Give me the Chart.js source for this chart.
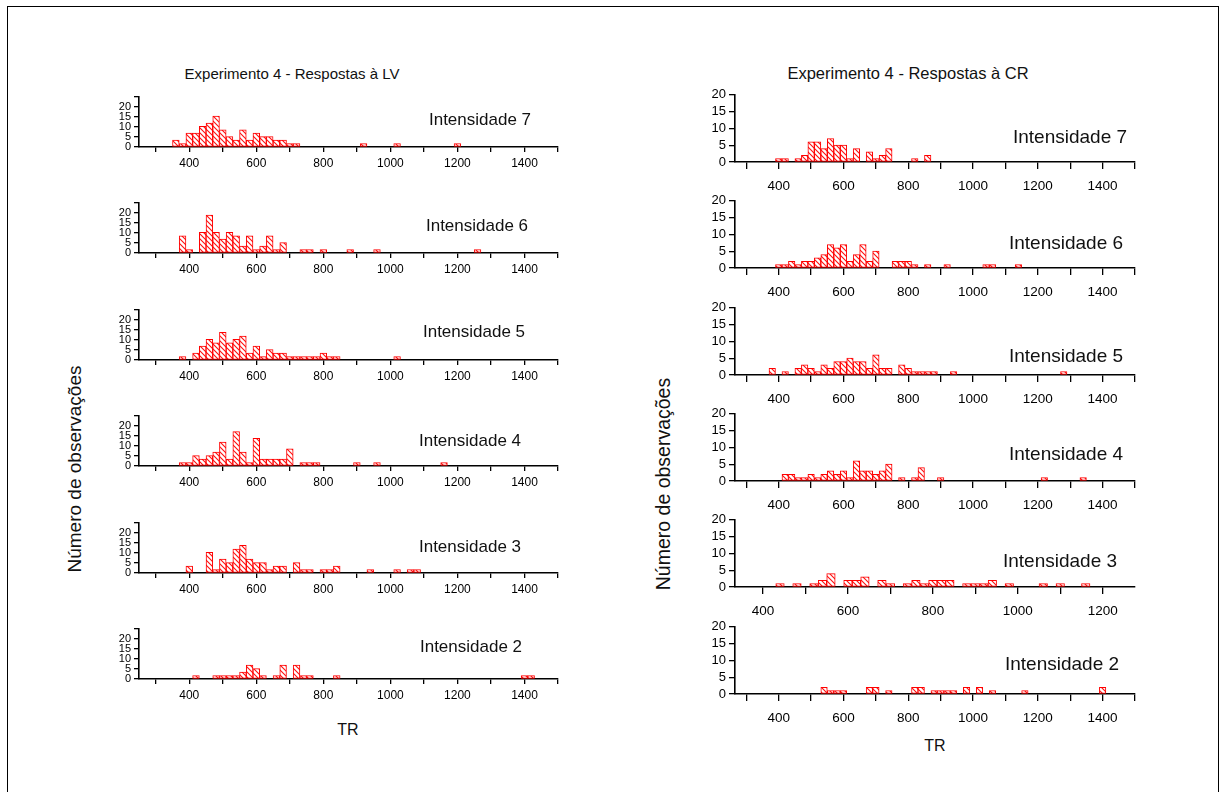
<!DOCTYPE html>
<html>
<head>
<meta charset="utf-8">
<script src="https://cdn.jsdelivr.net/npm/chart.js@4.4.1/dist/chart.umd.min.js"></script>
<style>
  body{margin:0;background:#fff;font-family:"Liberation Sans",Arial,sans-serif;}
  #page{position:relative;width:1225px;height:792px;overflow:hidden;background:#fff;}
  #frame{position:absolute;left:7px;top:6px;width:1210px;height:800px;border:1px solid #000;}
  .lbl{position:absolute;transform:translate(-50%,-50%);white-space:nowrap;color:#111;}
  .rot{transform:translate(-50%,-50%) rotate(-90deg);}
  canvas{position:absolute;}
</style>
</head>
<body>
<div id="page"><div id="frame"></div></div>
<script>
/* ============ DATA : bin centre (TR, ms) and bar height ============ */
// Respostas à LV (heights)
const lv7_tr = [360,380,400,420,440,460,480,500,520,540,560,580,600,620,640,660,680,700,720,920,1020,1200];
const lv7_n  = [3.4,1.7,6.9,6.9,10.3,12,15.5,8.6,5.2,3.4,8.6,3.4,6.9,5.2,5.2,3.4,3.4,1.7,1.7,1.7,1.7,1.7];
const lv6_tr = [380,400,440,460,480,500,520,540,560,580,600,620,640,660,680,740,760,800,880,960,1260];
const lv6_n  = [8.6,1.7,10.3,18.9,10.3,6.9,10.3,8.6,3.4,8.6,1.7,3.4,8.6,1.7,5.2,1.7,1.7,1.7,1.7,1.7,1.7];
const lv5_tr = [380,420,440,460,480,500,520,540,560,580,600,620,640,660,680,700,720,740,760,780,800,820,840,1020];
const lv5_n  = [1.7,3.4,6.9,10.3,8.6,13.8,8.6,10.3,12,3.4,6.9,1.7,5.2,3.4,3.4,1.7,1.7,1.7,1.7,1.7,3.4,1.7,1.7,1.7];
const lv4_tr = [380,400,420,440,460,480,500,520,540,560,580,600,620,640,660,680,700,740,760,780,900,960,1160];
const lv4_n  = [1.7,1.7,5.2,3.4,5.2,6.9,12,3.4,17.2,6.9,1.7,13.8,3.4,3.4,3.4,3.4,8.6,1.7,1.7,1.7,1.7,1.7,1.7];
const lv3_tr = [400,460,480,500,520,540,560,580,600,620,640,660,680,720,740,760,800,820,840,940,1020,1060,1080];
const lv3_n  = [3.4,10.3,1.7,6.9,5.2,12,13.8,6.9,5.2,5.2,1.7,3.4,3.4,5.2,1.7,1.7,1.7,1.7,3.4,1.7,1.7,1.7,1.7];
const lv2_tr = [420,480,500,520,540,560,580,600,620,660,680,720,740,760,840,1400,1420];
const lv2_n  = [1.7,1.7,1.7,1.7,1.7,3.4,6.9,5.2,1.7,1.7,6.9,6.9,1.7,1.7,1.7,1.7,1.7];

// Respostas à CR
const cr7_tr = [400,420,460,480,500,520,540,560,580,600,620,640,680,700,720,740,820,860];
const cr7_n  = [1,1,1,2,6,6,4,7,5,5,1,4,3,1,2,4,1,2];
const cr6_tr = [400,420,440,460,480,500,520,540,560,580,600,620,640,660,680,700,760,780,800,820,860,920,1040,1060,1140];
const cr6_n  = [1,1,2,1,2,2,3,4,7,6,7,2,4,7,2,5,2,2,2,1,1,1,1,1,1];
const cr5_tr = [380,420,460,480,500,520,540,560,580,600,620,640,660,680,700,720,740,780,800,820,840,860,880,940,1280];
const cr5_n  = [2,1,2,3,2,1,3,2,4,4,5,4,4,2,6,2,2,3,2,1,1,1,1,1,1];
const cr4_tr = [420,440,460,480,500,520,540,560,580,600,620,640,660,680,700,720,740,780,820,840,900,1220,1340];
const cr4_n  = [2,2,1,1,2,1,2,3,2,3,1,6,3,3,2,3,5,1,1,4,1,1,1];
const cr3_tr = [440,480,520,540,560,600,620,640,680,700,740,760,780,800,820,840,880,900,920,940,980,1060,1100,1160];
const cr3_n  = [1,1,1,2,4,2,2,3,2,1,1,2,1,2,2,2,1,1,1,2,1,1,1,1];
const cr2_tr = [540,560,580,600,680,700,740,820,840,880,900,920,940,980,1020,1060,1160,1400];
const cr2_n  = [2,1,1,1,2,2,1,2,2,1,1,1,1,2,2,1,1,2];

// tick values
const xTicksWide   = [300,400,500,600,700,800,900,1000,1100,1200,1300,1400,1500];
const xTicksNarrow = [400,500,600,700,800,900,1000,1100,1200];
const yTicksLV = [0,5,10,15,20,25];
const yTicksCR = [0,5,10,15,20];

/* ============ HELPERS ============ */
const page = document.getElementById("page");

// red "\\\" hatching on white
function hatch(){
  const s = 5;
  const c = document.createElement("canvas");
  c.width = s; c.height = s;
  const g = c.getContext("2d");
  g.fillStyle = "#fff"; g.fillRect(0,0,s,s);
  g.strokeStyle = "#ff1010"; g.lineWidth = 1.1;
  g.beginPath();
  g.moveTo(0,0); g.lineTo(s,s);
  g.moveTo(-1,s-1); g.lineTo(1,s+1);
  g.moveTo(s-1,-1); g.lineTo(s+1,1);
  g.stroke();
  return g.createPattern(c,"repeat");
}
const pat = hatch();

function label(text, x, y, size, extra){
  const d = document.createElement("div");
  d.className = "lbl" + (extra ? " " + extra : "");
  d.textContent = text;
  d.style.left = x + "px"; d.style.top = y + "px";
  d.style.fontSize = size + "px";
  page.appendChild(d);
}

// box: x0,x1 (axis px), yb (baseline px), yt (axis top px); st: tick style
function panel(box, tr, n, xmin, xmax, xt, ymax, yt, st){
  const padL = 45, padR = 10, padT = 10, padB = 36;
  const W = box.x1 - box.x0, H = box.yb - box.yt;
  const cv = document.createElement("canvas");
  cv.width = W + padL + padR; cv.height = H + padT + padB;
  cv.style.width = cv.width + "px"; cv.style.height = cv.height + "px";
  cv.style.left = (box.x0 - padL) + "px"; cv.style.top = (box.yt - padT) + "px";
  page.appendChild(cv);

  new Chart(cv, {
    type: "bar",
    data: { datasets: [{
      data: tr.map((x,i) => ({x: x, y: n[i]})),
      backgroundColor: pat,
      borderColor: "#ff0000",
      borderWidth: 1,
      borderSkipped: false,
      barPercentage: 1,
      categoryPercentage: 1
    }]},
    options: {
      responsive: false, animation: false,
      layout: { padding: { left: 0, right: padR, top: padT, bottom: 0 } },
      plugins: { legend: {display:false}, tooltip: {enabled:false} },
      scales: {
        x: {
          type: "linear", min: xmin, max: xmax, offset: false,
          afterBuildTicks: s => { s.ticks = xt.map(v => ({value: v})); },
          afterFit: s => { s.height = padB; },
          grid: { offset: false, drawOnChartArea: false, drawTicks: true, tickLength: st.xLen, color: "#000", lineWidth: 1.3 },
          border: { color: "#000", width: 1.6 },
          ticks: { color: "#000", font: {family: "Liberation Sans", size: st.xFont}, padding: st.xPad,
                   maxRotation: 0, autoSkip: false,
                   callback: v => (v % 200 === 0 ? v : "") }
        },
        y: {
          min: 0, max: ymax,
          afterBuildTicks: s => { s.ticks = yt.map(v => ({value: v})); },
          afterFit: s => { s.width = padL; },
          grid: { drawOnChartArea: false, drawTicks: true, tickLength: st.yLen, color: "#000", lineWidth: 1.3 },
          border: { color: "#000", width: 1.6 },
          ticks: { color: "#000", font: {family: "Liberation Sans", size: st.yFont}, padding: 3,
                   autoSkip: false, callback: v => (v <= 20 ? v : "") }
        }
      }
    }
  });
}

/* ============ LEFT : LV ============ */
const lvStyle = {xLen: 5, xPad: 4, xFont: 12, yLen: 5, yFont: 11};
const lvSets = [[lv7_tr,lv7_n,7],[lv6_tr,lv6_n,6],[lv5_tr,lv5_n,5],[lv4_tr,lv4_n,4],[lv3_tr,lv3_n,3],[lv2_tr,lv2_n,2]];
const lvTxt = [[480,120],[477,226],[474,332],[470,441],[470,547],[471,647]];
lvSets.forEach((s,i) => {
  const yb = 146.7 + 106.5*i;
  panel({x0:139, x1:558, yb: yb, yt: yb - 50}, s[0], s[1], 250, 1500, xTicksWide, 25, yTicksLV, lvStyle);
  label("Intensidade " + s[2], lvTxt[i][0], lvTxt[i][1], 17);
});

/* ============ RIGHT : CR ============ */
const crStyle = {xLen: 7, xPad: 9, xFont: 13.5, yLen: 6, yFont: 13};
const crSets = [[cr7_tr,cr7_n,7],[cr6_tr,cr6_n,6],[cr5_tr,cr5_n,5],[cr4_tr,cr4_n,4],[cr3_tr,cr3_n,3],[cr2_tr,cr2_n,2]];
const crTxt = [[1070,137],[1066,243],[1066,356],[1066,454],[1060,561],[1062,664]];
crSets.forEach((s,i) => {
  const yb = 162.3 + 106.4*i;
  const narrow = (s[2] === 3);
  panel({x0:735, x1:1135, yb: yb, yt: yb - 68.6}, s[0], s[1],
        narrow ? 334 : 265, narrow ? 1276 : 1500,
        narrow ? xTicksNarrow : xTicksWide, 20, yTicksCR, crStyle);
  label("Intensidade " + s[2], crTxt[i][0], crTxt[i][1], 19);
});

/* ============ TITLES ============ */
label("Experimento 4 - Respostas à LV", 292, 73, 15);
label("Experimento 4 - Respostas à CR", 908, 73, 16.5);
label("Número de observações", 75, 469, 19, "rot");
label("Número de observações", 663, 484, 19.5, "rot");
label("TR", 348, 730, 16);
label("TR", 935, 746, 16);
</script>
</body>
</html>
